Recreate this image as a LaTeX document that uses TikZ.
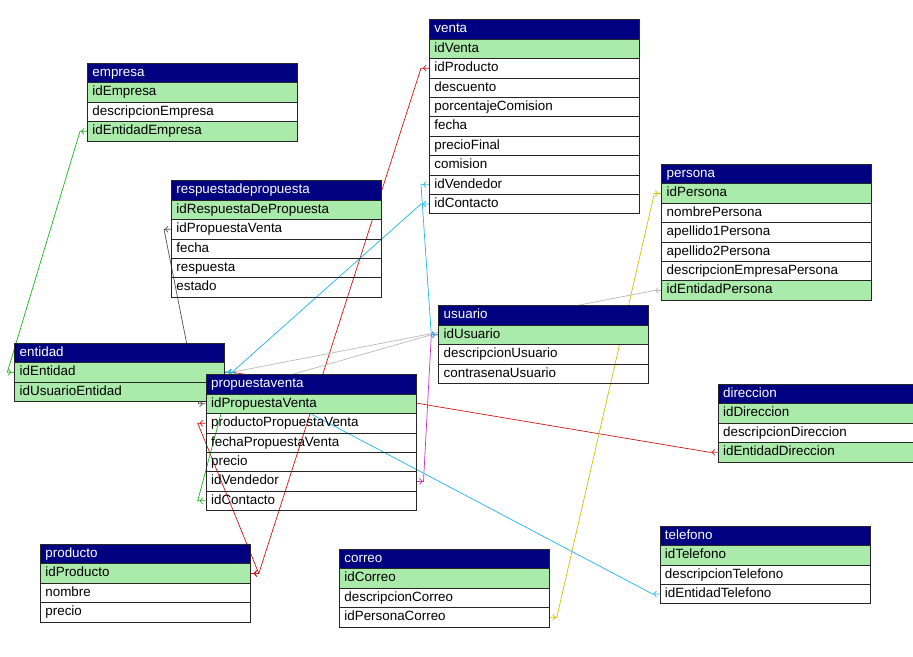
\documentclass[tikz,border=0pt]{standalone}
\usepackage{fontspec}
\setmainfont{Liberation Sans}
\usetikzlibrary{arrows.meta,decorations.markings}
\pgfdeclarelayer{back}
\pgfsetlayers{back,main}
\definecolor{navy}{RGB}{0,0,128}
\definecolor{keygreen}{RGB}{170,234,170}
\definecolor{fkgreen}{RGB}{30,178,30}
\definecolor{fkdark}{RGB}{80,80,80}
\definecolor{fkred}{RGB}{208,20,20}
\definecolor{fkcyan}{RGB}{30,180,240}
\definecolor{fkmagenta}{RGB}{196,50,196}
\definecolor{fksilver}{RGB}{185,185,185}
\definecolor{fkyellow}{RGB}{212,190,0}

\begin{document}
\begin{tikzpicture}[x=1pt,y=-1pt,
    tablehead/.style={anchor=north west, draw=black!85, line width=0.8pt, fill=navy, text=white,
      minimum width=210pt, minimum height=19.4pt, text width=200pt, inner xsep=5pt, inner ysep=0pt,
      text height=9.6pt, text depth=2.8pt, align=left, font=\fontsize{13.4}{15}\selectfont},
    tablefield/.style={tablehead, fill=#1, text=black},
    fk/.style={draw=#1, line width=0.7pt, postaction={decorate, decoration={markings,
      mark=at position 6pt with {\arrow[#1, line width=0.7pt]{Straight Barb[length=2.5pt,width=6pt]}},
      mark=at position -3pt with {\arrow[#1, line width=0.7pt]{Straight Barb[length=2.5pt,width=6pt]}}}}}]
       \useasboundingbox (0,0) rectangle (913,656);

       \node(empresa)[tablehead] at (87,63) {empresa};
       \foreach \f/\c [count=\i] in {idEmpresa/keygreen, descripcionEmpresa/none, idEntidadEmpresa/keygreen}
         \node(empresa-\i)[tablefield=\c] at (87,63+19.4*\i) {\f};

       \node(venta)[tablehead] at (429,19.3) {venta};
       \foreach \f/\c [count=\i] in {idVenta/keygreen, idProducto/none, descuento/none, porcentajeComision/none,
           fecha/none, precioFinal/none, comision/none, idVendedor/none, idContacto/none}
         \node(venta-\i)[tablefield=\c] at (429,19.3+19.4*\i) {\f};

       \node(respuesta)[tablehead] at (171,180.3) {respuestadepropuesta};
       \foreach \f/\c [count=\i] in {idRespuestaDePropuesta/keygreen, idPropuestaVenta/none, fecha/none,
           respuesta/none, estado/none}
         \node(respuesta-\i)[tablefield=\c] at (171,180.3+19.4*\i) {\f};

       \node(persona)[tablehead] at (661.3,164) {persona};
       \foreach \f/\c [count=\i] in {idPersona/keygreen, nombrePersona/none, apellido1Persona/none,
           apellido2Persona/none, descripcionEmpresaPersona/none, idEntidadPersona/keygreen}
         \node(persona-\i)[tablefield=\c] at (661.3,164+19.4*\i) {\f};

       \node(usuario)[tablehead] at (438.3,305.3) {usuario};
       \foreach \f/\c [count=\i] in {idUsuario/keygreen, descripcionUsuario/none, contrasenaUsuario/none}
         \node(usuario-\i)[tablefield=\c] at (438.3,305.3+19.4*\i) {\f};

       \node(entidad)[tablehead] at (14.3,342.7) {entidad};
       \foreach \f/\c [count=\i] in {idEntidad/keygreen, idUsuarioEntidad/keygreen}
         \node(entidad-\i)[tablefield=\c] at (14.3,342.7+19.4*\i) {\f};

       \node(propuestaventa)[tablehead] at (205.7,374.3) {propuestaventa};
       \foreach \f/\c [count=\i] in {idPropuestaVenta/keygreen, productoPropuestaVenta/none,
           fechaPropuestaVenta/none, precio/none, idVendedor/none, idContacto/none}
         \node(propuestaventa-\i)[tablefield=\c] at (205.7,374.3+19.4*\i) {\f};

       \node(direccion)[tablehead, minimum width=195pt, text width=185pt] at (717.7,384) {direccion};
       \foreach \f/\c [count=\i] in {idDireccion/keygreen, descripcionDireccion/none, idEntidadDireccion/keygreen}
         \node(direccion-\i)[tablefield=\c, minimum width=195pt, text width=185pt] at (717.7,384+19.4*\i) {\f};

       \node(producto)[tablehead] at (40,544) {producto};
       \foreach \f/\c [count=\i] in {idProducto/keygreen, nombre/none, precio/none}
         \node(producto-\i)[tablefield=\c] at (40,544+19.4*\i) {\f};

       \node(correo)[tablehead] at (339,549) {correo};
       \foreach \f/\c [count=\i] in {idCorreo/keygreen, descripcionCorreo/none, idPersonaCorreo/none}
         \node(correo-\i)[tablefield=\c] at (339,549+19.4*\i) {\f};

       \node(telefono)[tablehead] at (659.5,525.7) {telefono};
       \foreach \f/\c [count=\i] in {idTelefono/keygreen, descripcionTelefono/none, idEntidadTelefono/none}
         \node(telefono-\i)[tablefield=\c] at (659.5,525.7+19.4*\i) {\f};

       \begin{pgfonlayer}{back}
       \draw[fk=fkgreen] (empresa-3.west) -- ++(-7,0) -- ([xshift=-7pt]entidad-1.west) -- (entidad-1.west);
       \draw[fk=fkdark] (respuesta-2.west) -- ++(-7,0) -- ([xshift=-7pt]propuestaventa-1.west) -- (propuestaventa-1.west);
       \draw[fk=fkred] (venta-2.west) -- ++(-8,0) -- ([xshift=8pt]producto-1.east) -- (producto-1.east);
       \draw[fk=fkred] (propuestaventa-2.west) -- ++(-8,0) -- ([xshift=8pt]producto-1.east) -- (producto-1.east);
       \draw[fk=fkred] (direccion-3.west) -- ++(-8,0) -- ([xshift=7pt]entidad-1.east) -- (entidad-1.east);
       \draw[fk=fksilver] (persona-6.west) -- ++(-7,0) -- ([xshift=7pt]entidad-1.east) -- (entidad-1.east);
       \draw[fk=fksilver] (entidad-2.east) -- ++(7,0) -- ([xshift=-7pt]usuario-1.west) -- (usuario-1.west);
       \draw[fk=fkmagenta] (propuestaventa-5.east) -- ++(7,0) -- ([xshift=-7pt]usuario-1.west) -- (usuario-1.west);
       \draw[fk=fkcyan] (venta-8.west) -- ++(-8,0) -- ([xshift=-7pt]usuario-1.west) -- (usuario-1.west);
       \draw[fk=fkgreen] (propuestaventa-6.west) -- ++(-8,0) -- ([xshift=7pt]entidad-1.east) -- (entidad-1.east);
       \draw[fk=fkyellow] (correo-3.east) -- ++(7,0) -- ([xshift=-7pt]persona-1.west) -- (persona-1.west);
       \draw[fk=fkcyan] (telefono-3.west) -- ++(-7,0) -- ([xshift=7pt]entidad-1.east) -- (entidad-1.east);
       \draw[fk=fkcyan] (venta-9.west) -- ++(-8,0) -- ([xshift=7pt]entidad-1.east) -- (entidad-1.east);
       \end{pgfonlayer}

     \end{tikzpicture}
\end{document}
